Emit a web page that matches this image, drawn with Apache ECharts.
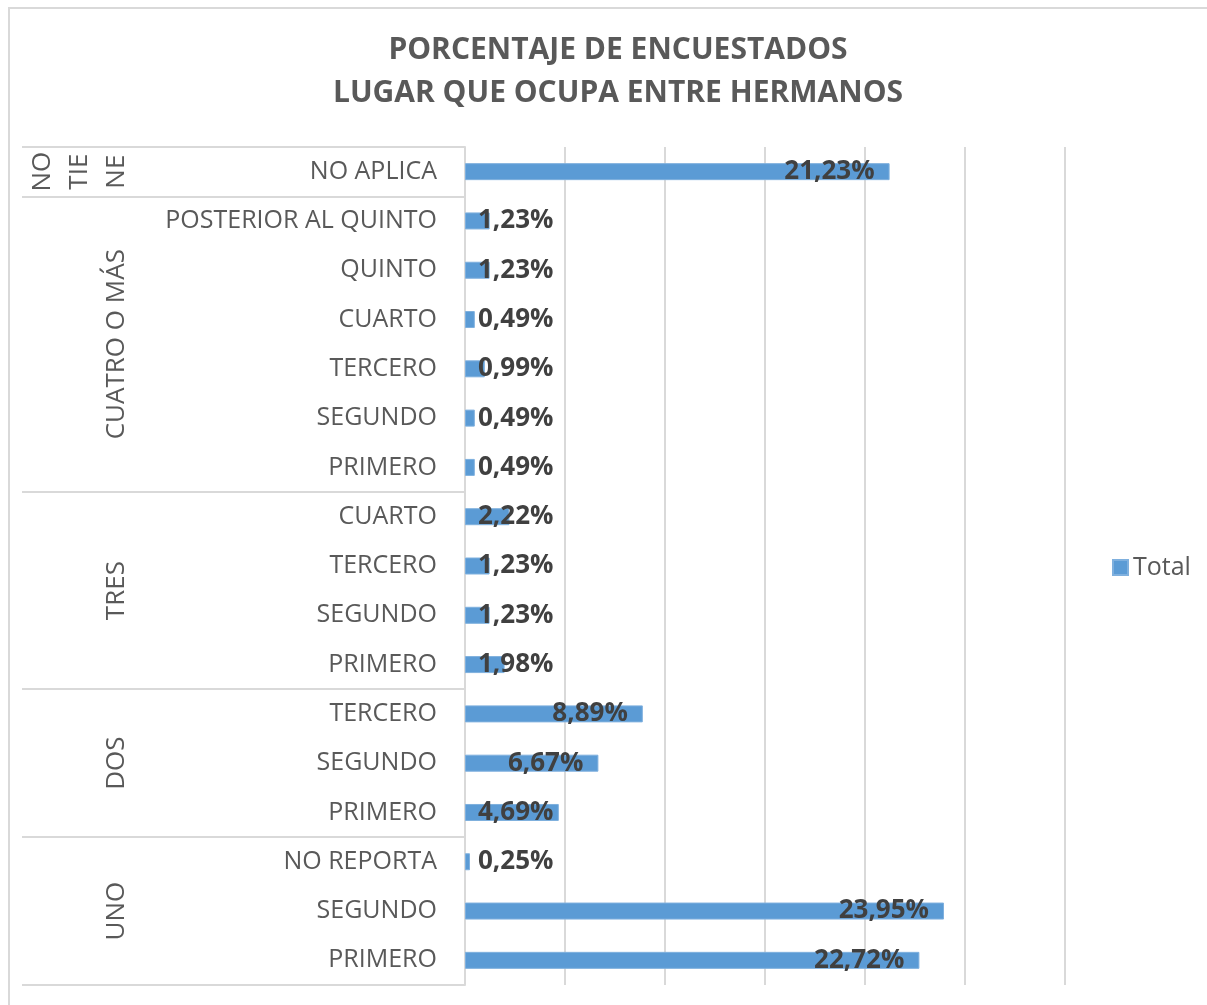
<!DOCTYPE html>
<html>
<head>
<meta charset="utf-8">
<script src="https://cdn.jsdelivr.net/npm/echarts@6/dist/echarts.min.js"></script>
<style>
  html, body { margin: 0; padding: 0; background: #fff; }
  #chart { position: absolute; left: 0; top: 0; width: 1207px; height: 1005px; }
  #frame { position: absolute; left: 8px; top: 7px; width: 1300px; height: 1100px;
           border-top: 2px solid #d9d9d9; border-left: 2px solid #d9d9d9; pointer-events: none; }
</style>
</head>
<body>
<div id="chart"></div>
<div id="frame"></div>
<script>
// categories from bottom to top (Excel draws the first row at the bottom)
const categories = [
  'PRIMERO', 'SEGUNDO', 'NO REPORTA',
  'PRIMERO', 'SEGUNDO', 'TERCERO',
  'PRIMERO', 'SEGUNDO', 'TERCERO', 'CUARTO',
  'PRIMERO', 'SEGUNDO', 'TERCERO', 'CUARTO', 'QUINTO', 'POSTERIOR AL QUINTO',
  'NO APLICA'
];
const values = [
  22.72, 23.95, 0.25,
  4.69, 6.67, 8.89,
  1.98, 1.23, 1.23, 2.22,
  0.49, 0.49, 0.99, 0.49, 1.23, 1.23,
  21.23
];
// outer groups: name and how many categories each one holds
const groupNames = ['UNO', 'DOS', 'TRES', 'CUATRO O MÁS', 'NO\nTIE\nNE'];
const groupSizes = [3, 3, 4, 6, 1];

// boundaries and centres of the groups in category units
const groupEdges = [0];
groupSizes.forEach(n => groupEdges.push(groupEdges[groupEdges.length - 1] + n));
const groupCenters = groupSizes.map((n, i) => groupEdges[i] + n / 2);

const fmt = v => v.toFixed(2).replace('.', ',') + '%';

const chart = echarts.init(document.getElementById('chart'));
chart.setOption({
  animation: false,
  textStyle: { fontFamily: 'Open Sans' },
  title: {
    text: 'PORCENTAJE DE ENCUESTADOS\nLUGAR QUE OCUPA ENTRE HERMANOS',
    left: 613, top: 24, textAlign: 'center',
    textStyle: { fontSize: 30, fontWeight: 'bold', color: '#595959', lineHeight: 43, fontFamily: 'Open Sans' }
  },
  legend: {
    data: ['Total'],
    left: 1107, top: 550,
    icon: 'rect', itemWidth: 15, itemHeight: 15, itemGap: 6,
    textStyle: { fontSize: 25, color: '#595959', fontFamily: 'Open Sans' }
  },
  grid: { left: 465, right: 142, top: 147, bottom: 20, containLabel: false },
  xAxis: {
    type: 'value', min: 0, max: 30, interval: 5,
    axisLabel: { show: false },
    axisLine: { show: false },
    axisTick: { show: false },
    splitLine: { lineStyle: { color: '#d9d9d9', width: 2 } }
  },
  yAxis: [
    {
      type: 'category',
      data: categories,
      axisLine: { lineStyle: { color: '#d9d9d9', width: 2 } },
      axisTick: { show: false },
      axisLabel: { fontSize: 25, color: '#595959', margin: 28, fontFamily: 'Open Sans' }
    },
    {
      type: 'value', min: 0, max: categories.length, position: 'left',
      axisLine: { show: false },
      splitLine: { show: false },
      axisTick: {
        show: true, length: 443, customValues: groupEdges,
        lineStyle: { color: '#d9d9d9', width: 2 }
      },
      axisLabel: {
        customValues: groupCenters,
        rotate: 90, margin: 330, fontSize: 26, lineHeight: 37,
        color: '#595959', fontFamily: 'Open Sans',
        formatter: v => groupNames[groupCenters.indexOf(v)]
      }
    }
  ],
  series: [{
    name: 'Total',
    type: 'bar',
    yAxisIndex: 0,
    barWidth: 17,
    itemStyle: { color: '#5b9bd5', borderColor: '#7fb0de', borderWidth: 1 },
    data: values.map(v => ({
      value: v,
      label: v >= 5
        ? { position: 'insideRight', distance: 15 }
        : { position: 'insideLeft', distance: 13 }
    })),
    label: {
      show: true,
      formatter: p => fmt(p.value),
      fontSize: 26, fontWeight: 'bold', color: '#404040', fontFamily: 'Open Sans'
    }
  }]
});
</script>
</body>
</html>
